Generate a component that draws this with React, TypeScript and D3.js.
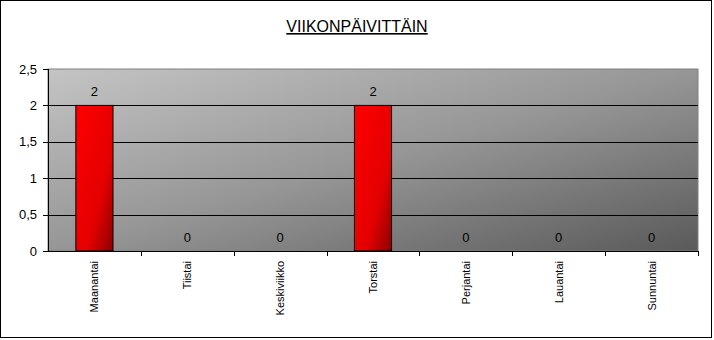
import React from "react";
import * as d3 from "d3";

const categories = ["Maanantai", "Tiistai", "Keskiviikko", "Torstai", "Perjantai", "Lauantai", "Sunnuntai"];
const values = [2, 0, 0, 2, 0, 0, 0];
const yTicks = [0, 0.5, 1, 1.5, 2, 2.5];
const title = "VIIKONPÄIVITTÄIN";

const W = 714;
const H = 340;
const plot = { left: 48, top: 69, right: 698, bottom: 251 };

export default function App() {
  const x = d3
    .scaleBand<string>()
    .domain(categories)
    .range([plot.left, plot.right])
    .paddingInner(0)
    .paddingOuter(0);
  const y = d3.scaleLinear().domain([0, 2.5]).range([plot.bottom, plot.top]);
  const bw = x.bandwidth() / 2.5;
  const fmt = (v: number) => String(v).replace(".", ",");
  const font = "'Liberation Sans', Arial, sans-serif";

  return (
    <svg
      width={W}
      height={H}
      style={{ position: "absolute", left: 0, top: 0, background: "#fff" }}
      fontFamily={font}
    >
      <defs>
        <linearGradient id="bg" x1="0" y1="0" x2="1" y2="1">
          <stop offset="0" stopColor="#c4c4c4" />
          <stop offset="0.5" stopColor="#969696" />
          <stop offset="1" stopColor="#5a5a5a" />
        </linearGradient>
        <linearGradient id="bar" x1="0" y1="0" x2="1" y2="1">
          <stop offset="0" stopColor="#ff0000" />
          <stop offset="0.65" stopColor="#e40000" />
          <stop offset="1" stopColor="#8c0000" />
        </linearGradient>
      </defs>
      <rect x={0.5} y={0.5} width={711} height={337} fill="#fff" stroke="#000" strokeWidth={1} />
      <text
        x={357}
        y={32}
        textAnchor="middle"
        fontSize={16}
        textDecoration="underline"
        fill="#000"
      >
        {title}
      </text>
      <rect
        x={plot.left}
        y={plot.top}
        width={plot.right - plot.left}
        height={plot.bottom - plot.top}
        fill="url(#bg)"
        stroke="#808080"
        strokeWidth={1}
      />
      {yTicks
        .filter((t) => t > 0 && t < 2.5)
        .map((t) => (
          <line
            key={"g" + t}
            x1={plot.left}
            x2={plot.right}
            y1={Math.round(y(t)) + 0.5}
            y2={Math.round(y(t)) + 0.5}
            stroke="#000"
            strokeWidth={1}
          />
        ))}
      {values.map((v, i) => {
        const cx = (x(categories[i]) as number) + x.bandwidth() / 2;
        return v > 0 ? (
          <rect
            key={"b" + i}
            x={cx - bw / 2}
            y={y(v)}
            width={bw}
            height={y(0) - y(v)}
            fill="url(#bar)"
            stroke="#000"
            strokeWidth={1}
          />
        ) : null;
      })}
      {values.map((v, i) => {
        const cx = (x(categories[i]) as number) + x.bandwidth() / 2;
        return (
          <text key={"l" + i} x={cx} y={y(v) - 9} textAnchor="middle" fontSize={13} fill="#000">
            {v}
          </text>
        );
      })}
      <line x1={plot.left + 0.5} x2={plot.left + 0.5} y1={plot.top} y2={plot.bottom + 0.5} stroke="#000" />
      <line x1={plot.left} x2={plot.right + 0.5} y1={plot.bottom + 0.5} y2={plot.bottom + 0.5} stroke="#000" />
      {yTicks.map((t) => (
        <g key={"t" + t}>
          <line
            x1={plot.left - 5}
            x2={plot.left}
            y1={Math.round(y(t)) + 0.5}
            y2={Math.round(y(t)) + 0.5}
            stroke="#000"
          />
          <text x={plot.left - 11} y={y(t) + 4.5} textAnchor="end" fontSize={13} fill="#000">
            {fmt(t)}
          </text>
        </g>
      ))}
      {categories.map((c, i) => {
        const x0 = (x(c) as number) + x.bandwidth();
        return (
          <line
            key={"xt" + i}
            x1={Math.round(x0) + 0.5}
            x2={Math.round(x0) + 0.5}
            y1={plot.bottom}
            y2={plot.bottom + 5}
            stroke="#000"
          />
        );
      })}
      {categories.map((c, i) => {
        const cx = (x(c) as number) + x.bandwidth() / 2;
        return (
          <text
            key={"xl" + i}
            transform={`translate(${cx + 4},${261}) rotate(-90)`}
            textAnchor="end"
            fontSize={11}
            fill="#000"
          >
            {c}
          </text>
        );
      })}
    </svg>
  );
}
